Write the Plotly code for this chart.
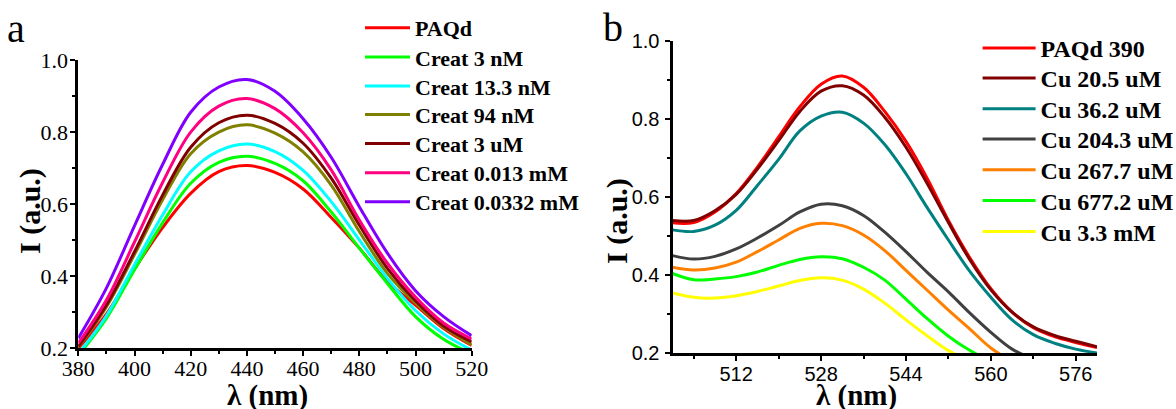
import plotly.graph_objects as go

# ---------------- Panel a: PAQd + creatinine ----------------
wl_a = [380, 390, 400, 410, 420, 430, 440, 450, 460, 470, 480, 490, 500, 510, 520]

names_a = ["PAQd", "Creat 3 nM", "Creat 13.3 nM", "Creat 94 nM",
           "Creat 3 uM", "Creat 0.013 mM", "Creat 0.0332 mM"]
colors_a = ["#FF0000", "#00FF00", "#00FFFF", "#808000",
            "#800000", "#FF0080", "#8000FF"]

paqd_a     = [0.200, 0.295, 0.420, 0.535, 0.630, 0.690, 0.707, 0.688, 0.642, 0.563, 0.478, 0.385, 0.320, 0.255, 0.208]
creat_3nM  = [0.180, 0.283, 0.418, 0.548, 0.658, 0.716, 0.733, 0.713, 0.665, 0.578, 0.478, 0.380, 0.288, 0.225, 0.185]
creat_13nM = [0.185, 0.290, 0.432, 0.570, 0.690, 0.748, 0.767, 0.746, 0.694, 0.607, 0.501, 0.394, 0.305, 0.240, 0.195]
creat_94nM = [0.203, 0.315, 0.460, 0.612, 0.740, 0.800, 0.820, 0.797, 0.745, 0.653, 0.524, 0.408, 0.325, 0.258, 0.210]
creat_3uM  = [0.205, 0.320, 0.468, 0.625, 0.758, 0.826, 0.847, 0.824, 0.769, 0.672, 0.542, 0.422, 0.332, 0.262, 0.218]
creat_13uM = [0.214, 0.334, 0.495, 0.660, 0.800, 0.872, 0.893, 0.865, 0.798, 0.695, 0.556, 0.436, 0.342, 0.270, 0.226]
creat_33uM = [0.228, 0.367, 0.540, 0.710, 0.855, 0.925, 0.946, 0.913, 0.837, 0.730, 0.593, 0.464, 0.360, 0.288, 0.235]

series_a = [paqd_a, creat_3nM, creat_13nM, creat_94nM, creat_3uM, creat_13uM, creat_33uM]

# ---------------- Panel b: PAQd 390 + copper ----------------
wl_b = [500, 504, 508, 512, 516, 520, 524, 528, 532, 536, 540,
        544, 548, 552, 556, 560, 564, 568, 572, 576, 580]

names_b = ["PAQd 390", "Cu 20.5 uM", "Cu 36.2 uM", "Cu 204.3 uM",
           "Cu 267.7 uM", "Cu 677.2 uM", "Cu 3.3 mM"]
colors_b = ["#FF0000", "#800000", "#008080", "#404040",
            "#FF8000", "#00FF00", "#FFFF00"]

paqd_b    = [0.534, 0.535, 0.562, 0.609, 0.677, 0.755, 0.832, 0.890, 0.911, 0.882, 0.820,
             0.743, 0.648, 0.540, 0.445, 0.365, 0.305, 0.265, 0.242, 0.227, 0.214]
cu_20uM   = [0.540, 0.540, 0.565, 0.607, 0.672, 0.745, 0.820, 0.872, 0.886, 0.862, 0.805,
             0.728, 0.635, 0.535, 0.440, 0.362, 0.305, 0.267, 0.245, 0.230, 0.216]
cu_36uM   = [0.516, 0.512, 0.528, 0.566, 0.630, 0.697, 0.770, 0.808, 0.818, 0.790, 0.735,
             0.660, 0.573, 0.490, 0.410, 0.343, 0.285, 0.247, 0.225, 0.210, 0.200]
cu_204uM  = [0.450, 0.441, 0.448, 0.467, 0.495, 0.527, 0.562, 0.582, 0.578, 0.553, 0.510,
             0.460, 0.407, 0.357, 0.303, 0.253, 0.210, 0.185, 0.170, 0.160, 0.150]
cu_268uM  = [0.420, 0.413, 0.418, 0.433, 0.460, 0.490, 0.520, 0.533, 0.527, 0.503, 0.463,
             0.412, 0.361, 0.310, 0.262, 0.213, 0.180, 0.165, 0.155, 0.150, 0.145]
cu_677uM  = [0.404, 0.388, 0.390, 0.396, 0.408, 0.425, 0.440, 0.447, 0.442, 0.420, 0.387,
             0.338, 0.288, 0.243, 0.207, 0.180, 0.165, 0.155, 0.150, 0.145, 0.140]
cu_3mM    = [0.354, 0.343, 0.341, 0.347, 0.358, 0.372, 0.386, 0.393, 0.387, 0.364, 0.328,
             0.285, 0.244, 0.206, 0.180, 0.165, 0.155, 0.150, 0.145, 0.140, 0.135]

series_b = [paqd_b, cu_20uM, cu_36uM, cu_204uM, cu_268uM, cu_677uM, cu_3mM]

W, H = 1176, 409

def px_x(p):
    return p / W

def px_y(p):
    return 1 - p / H

serif = "Liberation Serif"
sans = "Liberation Sans"

# legend rows (pixel centre of each entry) for the two panels
rows_a = [30, 59.3, 88.3, 116.7, 145.7, 175, 204]
rows_b = [50, 80, 110.7, 141, 171.7, 202.3, 233.3]

fig = go.Figure()
legend_layout = {}

def add_panel(wl, names, colors, series, xa, ya, rows, first_idx, leg_x, item_w, font_size, top_off):
    for k, (name, color, ys) in enumerate(zip(names, colors, series)):
        idx = first_idx + k
        key = "legend" if idx == 1 else f"legend{idx}"
        fig.add_trace(go.Scatter(
            x=wl, y=ys, name=name, mode="lines",
            line=dict(color=color, width=3, shape="spline", smoothing=1.0),
            xaxis=xa, yaxis=ya, legend=key))
        legend_layout[key] = dict(
            x=px_x(leg_x), y=px_y(rows[k] - top_off), xanchor="left", yanchor="top",
            bgcolor="rgba(0,0,0,0)", borderwidth=0, tracegroupgap=0,
            itemwidth=item_w,
            font=dict(family=serif, size=font_size, color="black", weight="bold"))

add_panel(wl_a, names_a, colors_a, series_a, "x", "y", rows_a, 1, 360, 45, 22, 23)
add_panel(wl_b, names_b, colors_b, series_b, "x2", "y2", rows_b, 8, 977.6, 53, 24, 24)

axis_common = dict(
    showgrid=False, zeroline=False, showline=True, linecolor="black",
    linewidth=3, ticks="outside", tickcolor="black", tickwidth=2,
    ticklen=5, mirror=False, automargin=False,
)
minor_common = dict(ticks="outside", ticklen=3, tickwidth=2, tickcolor="black", showgrid=False)

fig.update_layout(
    template="none",
    width=W, height=H, autosize=False,
    margin=dict(l=0, r=0, t=0, b=0, pad=0, autoexpand=False),
    paper_bgcolor="white", plot_bgcolor="white",
    showlegend=True,
    xaxis=dict(
        domain=[px_x(78.3), px_x(471.7)], range=[380, 520],
        tick0=380, dtick=20, anchor="y", ticklabelstandoff=-7,
        minor=dict(dtick=10, **minor_common),
        tickfont=dict(family=serif, size=22, color="black"),
        **axis_common),
    yaxis=dict(
        domain=[px_y(348.3), px_y(60)], range=[0.2, 1.0],
        tick0=0.2, dtick=0.2, tickformat=".1f", anchor="x", ticklabelstandoff=-2,
        minor=dict(dtick=0.1, **minor_common),
        tickfont=dict(family=serif, size=22, color="black"),
        **axis_common),
    xaxis2=dict(
        domain=[px_x(672.5), px_x(1097)], range=[500, 580],
        tick0=512, dtick=16, anchor="y2", ticklabelstandoff=-4,
        minor=dict(dtick=8, tick0=504, **minor_common),
        tickfont=dict(family=sans, size=20, color="black"),
        **axis_common),
    yaxis2=dict(
        domain=[px_y(353), px_y(41.3)], range=[0.2, 1.0],
        tick0=0.2, dtick=0.2, tickformat=".1f", anchor="x2", ticklabelstandoff=1,
        minor=dict(dtick=0.1, **minor_common),
        tickfont=dict(family=sans, size=20, color="black"),
        **axis_common),
    **legend_layout,
)

title_font = dict(family=serif, size=30, color="black", weight="bold")
annotations = [
    dict(text="a", x=px_x(5), y=px_y(53), xanchor="left", yanchor="bottom",
         font=dict(family=serif, size=40, color="black")),
    dict(text="b", x=px_x(601), y=px_y(52), xanchor="left", yanchor="bottom",
         font=dict(family=serif, size=40, color="black")),
    dict(text="I (a.u.)", x=px_x(30), y=px_y(211), textangle=-90,
         xanchor="center", yanchor="middle", font=title_font),
    dict(text="I (a.u.)", x=px_x(617), y=px_y(221), textangle=-90,
         xanchor="center", yanchor="middle", font=title_font),
    dict(text="λ (nm)", x=px_x(267), y=px_y(395),
         xanchor="center", yanchor="middle", font=dict(title_font, size=29)),
    dict(text="λ (nm)", x=px_x(857), y=px_y(395),
         xanchor="center", yanchor="middle", font=dict(title_font, size=29)),
]
for a in annotations:
    a.update(xref="paper", yref="paper", showarrow=False)
fig.update_layout(annotations=annotations)

fig.write_html("out.html")
